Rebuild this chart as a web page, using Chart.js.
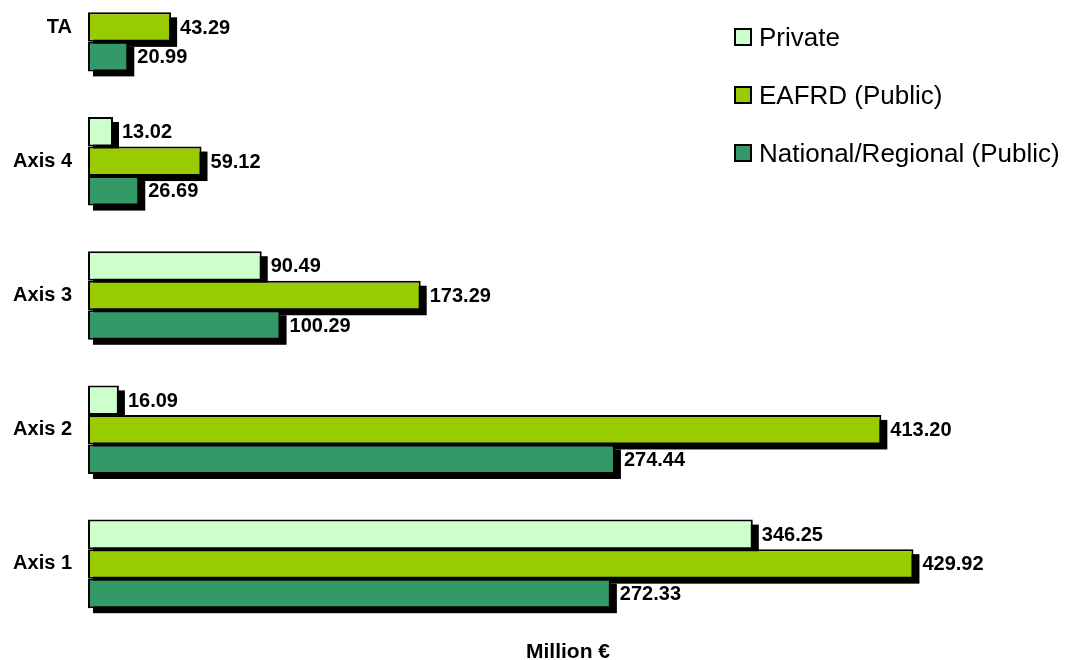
<!DOCTYPE html>
<html>
<head>
<meta charset="utf-8">
<script src="https://cdn.jsdelivr.net/npm/chart.js@4.4.1/dist/chart.umd.min.js"></script>
<style>
    html, body { margin: 0; padding: 0; width: 1068px; height: 660px; overflow: hidden; background: #fff; }
    #wrap { position: absolute; left: 0; top: -40px; width: 1068px; height: 710px; }
    #legend { position: absolute; left: 734px; top: 8px; font-family: 'Liberation Sans', Arial, sans-serif; font-size: 26px; color: #000; }
    .item { height: 58px; display: flex; align-items: center; white-space: nowrap; }
    .box { width: 14px; height: 14px; border: 2px solid #000; margin-right: 7px; }
</style>
</head>
<body>
<div id="wrap"><canvas id="fundingChart"></canvas></div>
<div id="legend"></div>
<script>
const categories = ['TA', 'Axis 4', 'Axis 3', 'Axis 2', 'Axis 1'];
const seriesNames = ['Private', 'EAFRD (Public)', 'National/Regional (Public)'];
const privateValues = [null, 13.02, 90.49, 16.09, 346.25];
const eafrdValues = [43.29, 59.12, 173.29, 413.20, 429.92];
const nationalValues = [20.99, 26.69, 100.29, 274.44, 272.33];
const seriesColors = ['#CCFFCC', '#99CC00', '#339966'];
const axisTitle = 'Million €';

const FONT = "'Liberation Sans', Arial, sans-serif";

// Black drop shadow behind every bar
const barShadow = {
    id: 'barShadow',
    beforeDatasetsDraw(chart) {
        const ctx = chart.ctx;
        ctx.save();
        ctx.fillStyle = '#000';
        chart.data.datasets.forEach((ds, i) => {
            chart.getDatasetMeta(i).data.forEach((bar, j) => {
                if (ds.data[j] == null) return;
                const p = bar.getProps(['x', 'y', 'base', 'height'], true);
                ctx.fillRect(p.base + 5, p.y - p.height / 2 + 5, p.x - p.base + 1, p.height);
            });
        });
        ctx.restore();
    }
};

// Value labels to the right of each bar
const barLabels = {
    id: 'barLabels',
    afterDatasetsDraw(chart) {
        const ctx = chart.ctx;
        ctx.save();
        ctx.font = 'bold 20px ' + FONT;
        ctx.fillStyle = '#000';
        ctx.textAlign = 'left';
        ctx.textBaseline = 'middle';
        chart.data.datasets.forEach((ds, i) => {
            chart.getDatasetMeta(i).data.forEach((bar, j) => {
                const v = ds.data[j];
                if (v == null) return;
                const p = bar.getProps(['x', 'y'], true);
                ctx.fillText(v.toFixed(2), p.x + 9, p.y + 1);
            });
        });
        ctx.restore();
    }
};

const seriesValues = [privateValues, eafrdValues, nationalValues];

new Chart(document.getElementById('fundingChart'), {
    type: 'bar',
    data: {
        labels: categories,
        datasets: seriesNames.map((name, i) => ({
            label: name,
            data: seriesValues[i],
            backgroundColor: seriesColors[i],
            borderColor: '#000',
            borderWidth: 2,
            borderSkipped: false,
            categoryPercentage: 0.66,
            barPercentage: 1.0
        }))
    },
    options: {
        indexAxis: 'y',
        responsive: true,
        maintainAspectRatio: false,
        animation: false,
        layout: { padding: { left: 0, right: 20, top: 0, bottom: 0 } },
        plugins: {
            legend: { display: false },
            tooltip: { enabled: false }
        },
        scales: {
            x: {
                min: 0,
                max: 500,
                grid: { display: false, drawTicks: false },
                border: { display: false },
                ticks: { display: false },
                title: {
                    display: true,
                    text: axisTitle,
                    color: '#000',
                    font: { family: FONT, size: 21, weight: 'bold' },
                    padding: { top: 0, bottom: 5 }
                },
                afterFit(scale) { scale.height = 39; }
            },
            y: {
                grid: { display: false, drawTicks: false },
                border: { display: false },
                ticks: {
                    color: '#000',
                    padding: 16,
                    font: { family: FONT, size: 20, weight: 'bold' }
                },
                afterFit(scale) {
                    scale.width = 88;
                    // the band edges start at the canvas top, no extra label padding
                    scale.paddingTop = 0;
                    scale.paddingBottom = 0;
                }
            }
        }
    },
    plugins: [barShadow, barLabels]
});

// Legend on the right
const legend = document.getElementById('legend');
seriesNames.forEach((name, i) => {
    const item = document.createElement('div');
    item.className = 'item';
    item.innerHTML = '<span class="box" style="background:' + seriesColors[i] + '"></span><span>' + name + '</span>';
    legend.appendChild(item);
});
</script>
</body>
</html>
